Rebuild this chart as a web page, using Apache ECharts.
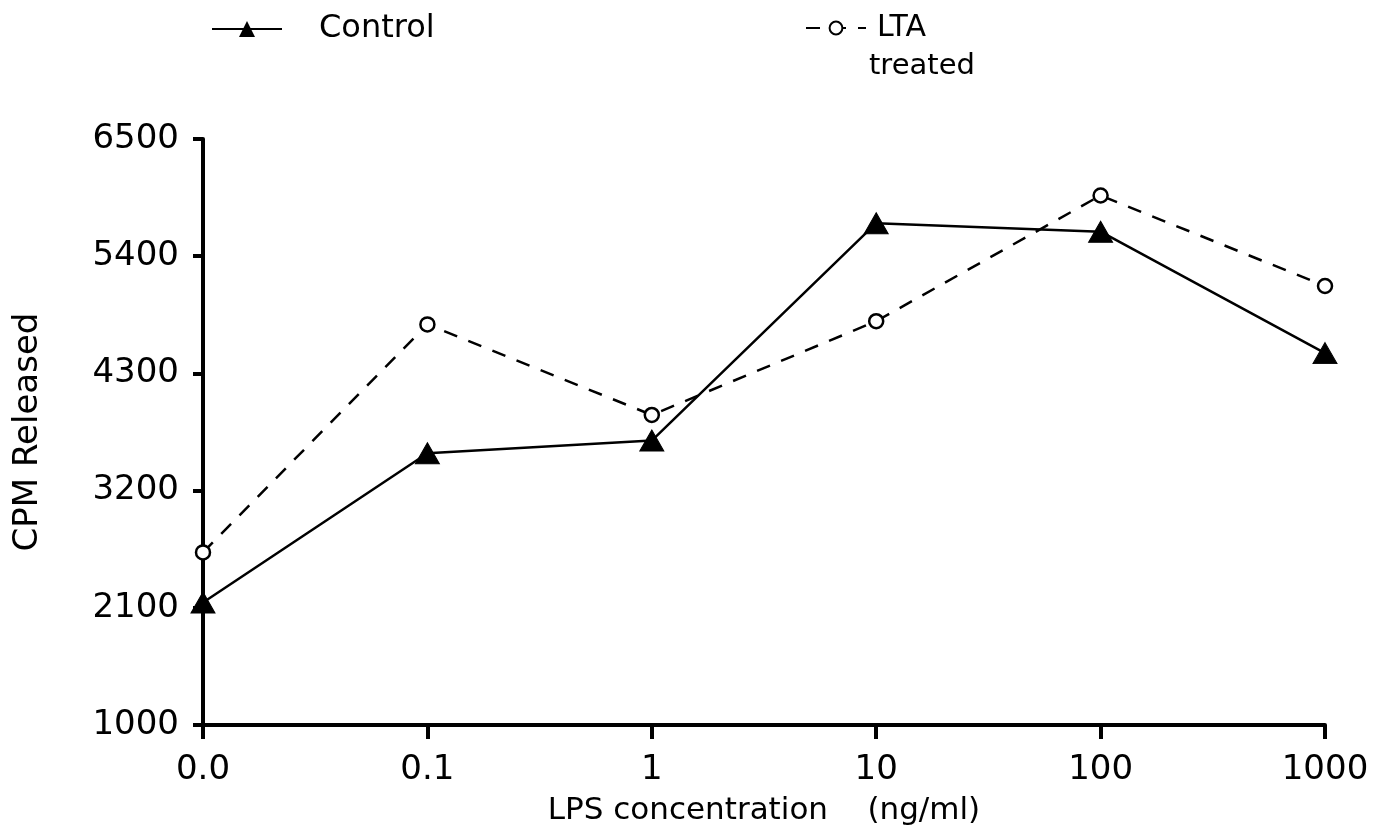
<!DOCTYPE html>
<html><head><meta charset="utf-8">
<script src="https://cdn.jsdelivr.net/npm/echarts@6/dist/echarts.min.js"></script>
<style>html,body{margin:0;padding:0;background:#fff}#c{width:1387px;height:831px}</style>
</head><body><div id="c"></div>
<script>
const categories = ['0.0', '0.1', '1', '10', '100', '1000'];
const controlValues = [2150, 3550, 3670, 5710, 5630, 4490];
const ltaValues = [2620, 4760, 3910, 4790, 5970, 5120];
const yTicks = [1000, 2100, 3200, 4300, 5400, 6500];

const FONT = 'DejaVu Sans';
const chart = echarts.init(document.getElementById('c'));
chart.setOption({
  backgroundColor: '#fff',
  animation: false,
  textStyle: { fontFamily: FONT, color: '#000' },
  grid: { left: 203, right: 62, top: 139, bottom: 105, containLabel: false },
  legend: [
    { data: ['Control'], left: 206, top: 8, itemWidth: 70, itemHeight: 20, itemGap: 0,
      textStyle: { fontFamily: FONT, fontSize: 32, color: '#000', padding: [0,0,0,32] } },
    { data: ['LTA treated'], left: 800, top: 8, itemWidth: 60, itemHeight: 16,
      formatter: function () { return 'LTA'; },
      textStyle: { fontFamily: FONT, fontSize: 30, color: '#000', padding: [0,0,0,6] } }
  ],
  graphic: [
    { type: 'text', left: 869, top: 52, style: { text: 'treated', font: '29px "DejaVu Sans"', fill: '#000' } }
  ],
  xAxis: {
    type: 'category', data: categories, boundaryGap: false,
    name: 'LPS concentration    (ng/ml)', nameLocation: 'middle', nameGap: 70,
    nameTextStyle: { fontFamily: FONT, fontSize: 31, color: '#000' },
    axisLine: { lineStyle: { color: '#000', width: 4 } },
    axisTick: { show: true, length: 14, lineStyle: { color: '#000', width: 4 } },
    axisLabel: { fontFamily: FONT, fontSize: 34, color: '#000', margin: 28 },
    splitLine: { show: false }
  },
  yAxis: {
    type: 'value', min: 1000, max: 6500, interval: 1100,
    name: 'CPM Released', nameLocation: 'middle', nameGap: 158,
    nameTextStyle: { fontFamily: FONT, fontSize: 34, color: '#000' },
    axisLine: { show: true, lineStyle: { color: '#000', width: 4 } },
    axisTick: { show: true, length: 10, lineStyle: { color: '#000', width: 4 } },
    axisLabel: { fontFamily: FONT, fontSize: 34, color: '#000', margin: 24,
      formatter: function (v) { return yTicks.indexOf(v) >= 0 ? String(v) : ''; } },
    splitLine: { show: false }
  },
  series: [
    { name: 'Control', type: 'line', data: controlValues,
      symbol: 'triangle', symbolSize: [24, 21],
      itemStyle: { color: '#000', borderColor: '#000' },
      lineStyle: { color: '#000', width: 2.5, type: 'solid' } },
    { name: 'LTA treated', type: 'line', data: ltaValues,
      symbol: 'circle', symbolSize: 14, showAllSymbol: true,
      itemStyle: { color: '#fff', borderColor: '#000', borderWidth: 2.5 },
      lineStyle: { color: '#000', width: 2.5, type: [14, 12] } }
  ]
});
</script></body></html>
